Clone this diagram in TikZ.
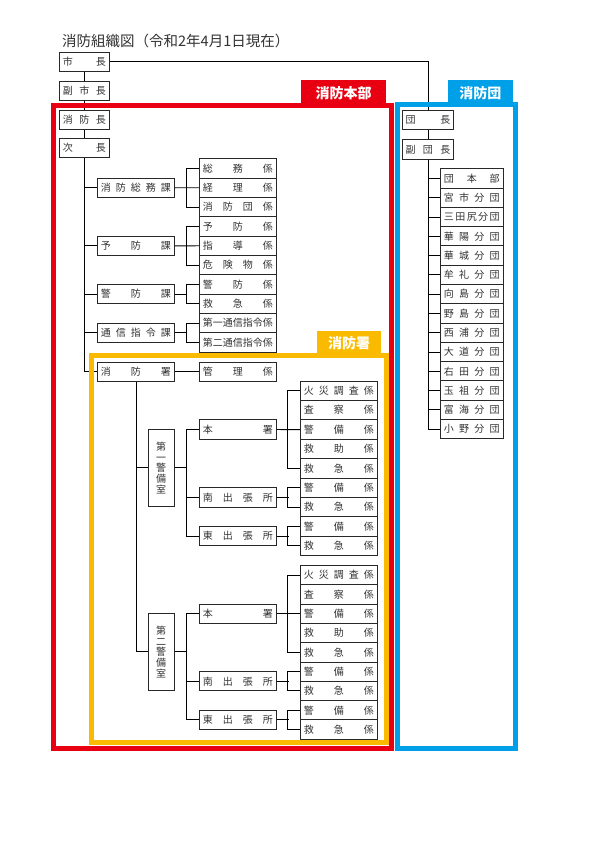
\documentclass[tikz,border=0pt]{standalone}
\usepackage{fontspec}
\setmainfont{Noto Sans CJK JP}
\usetikzlibrary{calc}
\definecolor{fred}{RGB}{232,0,18}
\definecolor{fyel}{RGB}{250,186,0}
\definecolor{fblu}{RGB}{0,160,233}
\definecolor{lnc}{RGB}{40,40,40}
\definecolor{txc}{RGB}{50,50,50}
\makeatletter
\newcommand\spreadchars[1]{\def\sc@first{1}\@tfor\sc@c:=#1\do{\ifx\sc@first\empty\hfill\fi\sc@c\let\sc@first\empty}}
\makeatother
\tikzset{
  bx/.style={draw=lnc, line width=0.9pt, inner xsep=3pt, inner ysep=0pt, fill=white, text=txc,
    font=\fontsize{10}{10.8}\selectfont},
  ln/.style={draw=black, line width=0.9pt},
  frame/.style={line width=5pt},
  tag/.style={text=white, font=\fontsize{14}{14}\selectfont\bfseries, inner sep=0pt}
}
\newcommand\BX[6]{\node[bx,minimum width=#4pt,minimum height=#5pt,anchor=north west] (#1) at (#2,#3) {\hbox to \dimexpr#4pt-7pt\relax{\spreadchars{#6}}};}
\begin{document}
\begin{tikzpicture}[x=1pt,y=-1pt]
\useasboundingbox (0,0) rectangle (600,848);
\fill[white] (0,0) rectangle (600,848);

% title
\node[anchor=west, font=\fontsize{14.5}{14.5}\selectfont, inner sep=0pt, text=txc] (title) at (62,41) {消防組織図（令和2年4月1日現在）};

% column A
\BX{shicho}{59}{52}{50}{19}{市長}
\BX{fuku}{59}{81}{50}{19}{副市長}
\BX{shobocho}{59}{110}{50}{19}{消防長}
\BX{jicho}{59}{138}{50}{19}{次長}

% column B
\BX{s1}{97}{177.7}{77}{19.3}{消防総務課}
\BX{s2}{97}{235.8}{77}{19.3}{予防課}
\BX{s3}{97}{284}{77}{19.3}{警防課}
\BX{s4}{97}{322.7}{77}{19.3}{通信指令課}
\BX{s5}{97}{361.7}{77}{19.3}{消防署}

% column C
\BX{c0}{199}{158.3}{77}{19.34}{総務係}
\BX{c1}{199}{177.64}{77}{19.34}{経理係}
\BX{c2}{199}{196.98}{77}{19.34}{消防団係}
\BX{c3}{199}{216.32}{77}{19.34}{予防係}
\BX{c4}{199}{235.66}{77}{19.34}{指導係}
\BX{c5}{199}{255.0}{77}{19.34}{危険物係}
\BX{c6}{199}{274.34}{77}{19.34}{警防係}
\BX{c7}{199}{293.68}{77}{19.34}{救急係}
\BX{c8}{199}{313.02}{77}{19.34}{第一通信指令係}
\BX{c9}{199}{332.36}{77}{19.34}{第二通信指令係}
\BX{kanri}{199}{361.7}{77}{19.3}{管理係}

% group 1
\BX{e0}{300}{380.7}{77}{19.37}{火災調査係}
\BX{e1}{300}{400.07}{77}{19.37}{査察係}
\BX{e2}{300}{419.44}{77}{19.37}{警備係}
\BX{e3}{300}{438.81}{77}{19.37}{救助係}
\BX{e4}{300}{458.18}{77}{19.37}{救急係}
\BX{e5}{300}{477.55}{77}{19.37}{警備係}
\BX{e6}{300}{496.92}{77}{19.37}{救急係}
\BX{e7}{300}{516.29}{77}{19.37}{警備係}
\BX{e8}{300}{535.66}{77}{19.37}{救急係}
\BX{hon1}{199}{419.44}{77}{19.3}{本署}
\BX{min1}{199}{487.27}{77}{19.3}{南出張所}
\BX{hig1}{199}{526.0}{77}{19.3}{東出張所}
\node[bx, minimum width=25.7pt, minimum height=77pt, inner xsep=0pt, align=center] (k1) at (161.2,467.87) {第\\一\\警\\備\\室};

% group 2
\BX{f0}{300}{565}{77}{19.3}{火災調査係}
\BX{f1}{300}{584.3}{77}{19.3}{査察係}
\BX{f2}{300}{603.6}{77}{19.3}{警備係}
\BX{f3}{300}{622.9}{77}{19.3}{救助係}
\BX{f4}{300}{642.2}{77}{19.3}{救急係}
\BX{f5}{300}{661.5}{77}{19.3}{警備係}
\BX{f6}{300}{680.8}{77}{19.3}{救急係}
\BX{f7}{300}{700.1}{77}{19.3}{警備係}
\BX{f8}{300}{719.4}{77}{19.3}{救急係}
\BX{hon2}{199}{603.6}{77}{19.3}{本署}
\BX{min2}{199}{671.15}{77}{19.3}{南出張所}
\BX{hig2}{199}{709.75}{77}{19.3}{東出張所}
\node[bx, minimum width=25.7pt, minimum height=77pt, inner xsep=0pt, align=center] (k2) at (161.2,651.85) {第\\二\\警\\備\\室};

% blue column
\BX{dancho}{401.7}{110}{51.6}{19.3}{団長}
\BX{fukudan}{401.7}{139.3}{51.6}{19.3}{副団長}
\BX{b0}{440}{168.3}{62.7}{19.29}{団本部}
\BX{b1}{440}{187.59}{62.7}{19.29}{宮市分団}
\BX{b2}{440}{206.88}{62.7}{19.29}{三田尻分団}
\BX{b3}{440}{226.17}{62.7}{19.29}{華陽分団}
\BX{b4}{440}{245.46}{62.7}{19.29}{華城分団}
\BX{b5}{440}{264.75}{62.7}{19.29}{牟礼分団}
\BX{b6}{440}{284.04}{62.7}{19.29}{向島分団}
\BX{b7}{440}{303.33}{62.7}{19.29}{野島分団}
\BX{b8}{440}{322.62}{62.7}{19.29}{西浦分団}
\BX{b9}{440}{341.91}{62.7}{19.29}{大道分団}
\BX{b10}{440}{361.2}{62.7}{19.29}{右田分団}
\BX{b11}{440}{380.49}{62.7}{19.29}{玉祖分団}
\BX{b12}{440}{399.78}{62.7}{19.29}{富海分団}
\BX{b13}{440}{419.07}{62.7}{19.29}{小野分団}

% connectors
\draw[ln] (shicho.south) -- (fuku.north);
\draw[ln] (fuku.south) -- (shobocho.north);
\draw[ln] (shobocho.south) -- (jicho.north);
\draw[ln] (jicho.south) |- (s5.west);
\foreach \s in {s1,s2,s3,s4} \draw[ln] (jicho.south |- \s.west) -- (\s.west);
\draw[ln] (shicho.east) -| (dancho.north);
\draw[ln] (dancho.south) -- (fukudan.north);
\draw[ln] (fukudan.south) |- (b13.west);
\foreach \b in {b0,b1,b2,b3,b4,b5,b6,b7,b8,b9,b10,b11,b12} \draw[ln] (fukudan.south |- \b.west) -- (\b.west);

\draw[ln] (s1.east) -- (c1.west);
\draw[ln] (c0.west) -- ++(-13,0) |- (c2.west);
\draw[ln] (s2.east) -- (c4.west);
\draw[ln] (c3.west) -- ++(-13,0) |- (c5.west);
\draw[ln] (s3.east) -- ++(12,0);
\draw[ln] (c6.west) -- ++(-13,0) |- (c7.west);
\draw[ln] (s4.east) -- ++(12,0);
\draw[ln] (c8.west) -- ++(-13,0) |- (c9.west);
\draw[ln] (s5.east) -- (kanri.west);

\draw[ln] (s5.south) |- (k2.west);
\draw[ln] (s5.south |- k1.west) -- (k1.west);
\draw[ln] (k1.east) -- ++(12,0);
\draw[ln] (hon1.west) -- ++(-13,0) |- (hig1.west);
\draw[ln] (min1.west) -- ++(-13,0);
\draw[ln] (hon1.east) -- (e2.west);
\draw[ln] (e0.west) -- ++(-12.3,0) |- (e4.west);
\draw[ln] (min1.east) -- ++(12.3,0);
\draw[ln] (e5.west) -- ++(-12.3,0) |- (e6.west);
\draw[ln] (hig1.east) -- ++(12.3,0);
\draw[ln] (e7.west) -- ++(-12.3,0) |- (e8.west);

\draw[ln] (k2.east) -- ++(12,0);
\draw[ln] (hon2.west) -- ++(-13,0) |- (hig2.west);
\draw[ln] (min2.west) -- ++(-13,0);
\draw[ln] (hon2.east) -- (f2.west);
\draw[ln] (f0.west) -- ++(-12.3,0) |- (f4.west);
\draw[ln] (min2.east) -- ++(12.3,0);
\draw[ln] (f5.west) -- ++(-12.3,0) |- (f6.west);
\draw[ln] (hig2.east) -- ++(12.3,0);
\draw[ln] (f7.west) -- ++(-12.3,0) |- (f8.west);

% frames
\draw[frame, fred] (53.5,105.5) rectangle (391,748);
\fill[fred] (301,80) rectangle (386,106);
\node[tag] (tred) at (343.5,93) {消防本部};
\draw[frame, fyel] (91.3,355.8) rectangle (386,742.5);
\fill[fyel] (317,331) rectangle (381,356);
\node[tag] (tyel) at (349,343.5) {消防署};
\draw[frame, fblu] (397.5,105) rectangle (515,748);
\fill[fblu] (448,80) rectangle (512.5,106);
\node[tag] (tblu) at (480.25,93) {消防団};
\end{tikzpicture}
\end{document}
